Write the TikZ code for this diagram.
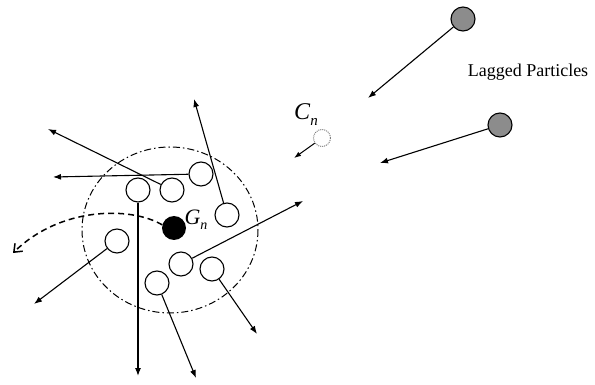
\documentclass[tikz,border=0pt]{standalone}
\usepackage{fontspec}
\setmainfont{Liberation Serif}
\usepackage{tikz}
\usetikzlibrary{arrows.meta}

\begin{document}
\begin{tikzpicture}[
    x=1pt,y=-1pt,
    ball/.style={draw, circle, line width=1.1pt, minimum size=24pt, inner sep=0pt},
    lagged/.style={ball, fill=gray!90!white},
    centre/.style={circle, fill=black, minimum size=24pt, inner sep=0pt},
    arr/.style={line width=1.1pt, -{Latex[length=8pt,width=6pt]}}
    ]
    \useasboundingbox (0,0) rectangle (595,385);
    % cluster boundary
    \draw[line width=1pt, dash pattern=on 7pt off 3pt on 1.5pt off 3pt] (170,230) ellipse (88 and 83);
    % particles of the cluster
    \node[ball] (a) at (138,190) {};
    \node[ball] (b) at (172,190) {};
    \node[ball] (c) at (201,174) {};
    \node[ball] (d) at (227,215) {};
    \node[ball] (e) at (117,241) {};
    \node[ball] (f) at (181,264) {};
    \node[ball] (g) at (212,269) {};
    \node[ball] (h) at (157,283) {};
    \node[centre] (gn) at (174,228) {};
    \node[font=\fontsize{22}{24}\selectfont] (gnlabel) at (196,220) {\textit{G}\raisebox{-5pt}{\fontsize{14}{16}\selectfont\textit{n}}};
    \coordinate (aend) at (138,376);
    \coordinate (bend) at (48,129);
    \coordinate (cend) at (53,177);
    \coordinate (dend) at (194,99);
    \coordinate (eend) at (34,304);
    \coordinate (fend) at (303,201);
    \coordinate (gend) at (257,334);
    \coordinate (hend) at (196,378);
    \draw[arr] (a) -- (aend);
    \draw[arr] (b) -- (bend);
    \draw[arr] (c) -- (cend);
    \draw[arr] (d) -- (dend);
    \draw[arr] (e) -- (eend);
    \draw[arr] (f) -- (fend);
    \draw[arr] (g) -- (gend);
    \draw[arr] (h) -- (hend);
    % path of the cluster centre
    \coordinate (curvend) at (13,253);
    \draw[line width=1.5pt, dash pattern=on 6pt off 4pt, -{Straight Barb[length=7pt,width=11pt]}]
        (gn.165) .. controls (130,206) and (60,207) .. (curvend);
    % lagged particles
    \node[lagged] (p) at (463,19) {};
    \node[lagged] (q) at (500,125) {};
    \coordinate (pend) at (368,98);
    \coordinate (qend) at (380,163);
    \draw[arr] (p) -- (pend);
    \draw[arr] (q) -- (qend);
    \node[font=\fontsize{18}{20}\selectfont] (lagtext) at (528,72) {Lagged Particles};
    % centre of the old cluster
    \node[draw=gray, densely dotted, circle, line width=1pt, minimum size=17pt, inner sep=0pt] (cn) at (322,138) {};
    \node[font=\fontsize{24}{26}\selectfont] (cnlabel) at (306,115) {\textit{C}\raisebox{-6pt}{\fontsize{15}{17}\selectfont\textit{n}}};
    \coordinate (cnend) at (294,158);
    \draw[line width=1pt, -{Latex[length=7pt,width=5pt]}] (cn) -- (cnend);
\end{tikzpicture}
\end{document}
